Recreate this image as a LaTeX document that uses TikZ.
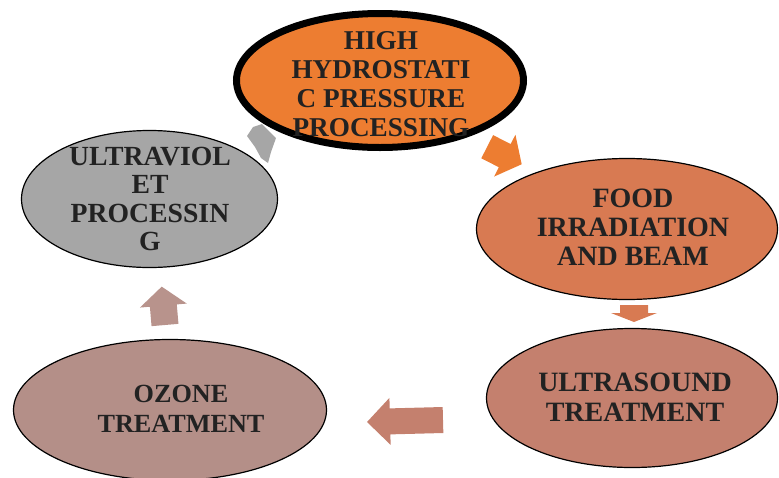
\documentclass[tikz,border=0pt]{standalone}
\usepackage{fontspec}
\setmainfont{Liberation Serif}
\usetikzlibrary{shapes.geometric}
\definecolor{cOrange}{HTML}{ED7D31}
\definecolor{cFood}{HTML}{D87A52}
\definecolor{cUltra}{HTML}{C4806E}
\definecolor{cOzone}{HTML}{B48F88}
\definecolor{cGray}{HTML}{A6A6A6}
\definecolor{cArrowOz}{HTML}{B8938C}
\definecolor{cText}{HTML}{222222}
\newcommand\blockarrow[8]{%
  \fill[#1, shift={(#2,#3)}, rotate=#4]
    (0,{#6/2}) -- ({#5-#8},{#6/2}) -- ({#5-#8},{#7/2}) -- (#5,0) --
    ({#5-#8},{-#7/2}) -- ({#5-#8},{-#6/2}) -- (0,{-#6/2}) -- cycle;}
\begin{document}
\begin{tikzpicture}[x=1pt,y=-1pt,
  blob/.style={ellipse, draw=black, line width=1.2pt, inner sep=0pt},
  txt/.style={inner sep=0pt, align=center, text=cText},
  fs/.style 2 args={font=\fontsize{#1}{#2}\selectfont\bfseries}]
\useasboundingbox (0,0) rectangle (779,477);
% arrows
\blockarrow{cOrange}{487.2}{146.7}{-27}{38.7}{26}{47}{19}
\blockarrow{cFood}{634}{305}{-90}{17}{28}{46}{9}
\blockarrow{cUltra}{443}{420}{181.5}{76}{26}{47}{23}
\blockarrow{cArrowOz}{165}{325}{94.9}{38.5}{27}{47}{19}
\fill[cGray] (253,127) -- (247,136) -- (255,147) -- (261,158) -- (268,163)
  -- (271,152) -- (276,138) -- (262,124) -- cycle;
% ellipses
\node[blob, fill=cGray, minimum width=256pt, minimum height=137pt] (uv) at (149.5,199) {};
\node[blob, fill=cFood, minimum width=301pt, minimum height=141pt] (food) at (627,229) {};
\node[blob, fill=cUltra, minimum width=291pt, minimum height=139pt] (us) at (632,398) {};
\node[blob, fill=cOzone, minimum width=313pt, minimum height=141pt] (oz) at (170,410) {};
\node[ellipse, draw=black, line width=7pt, fill=cOrange, inner sep=0pt,
  minimum width=287pt, minimum height=134pt] (hhp) at (380,80.5) {};
% texts
\node[txt, fs={27.2}{29.2}] (thhp) at (381,84.1) {HIGH\\HYDROSTATI\\C PRESSURE\\PROCESSING};
\node[txt, fs={28}{29}] (tfood) at (633,227.6) {FOOD\\IRRADIATION\\AND BEAM};
\node[txt, fs={28}{30}] (tus) at (635,397) {ULTRASOUND\\TREATMENT};
\node[txt, fs={26.2}{30.5}] (toz) at (181,409) {OZONE\\TREATMENT};
\node[txt, fs={27.7}{28.3}] (tuv) at (150,199) {ULTRAVIOL\\ET\\PROCESSIN\\G};
\end{tikzpicture}
\end{document}
